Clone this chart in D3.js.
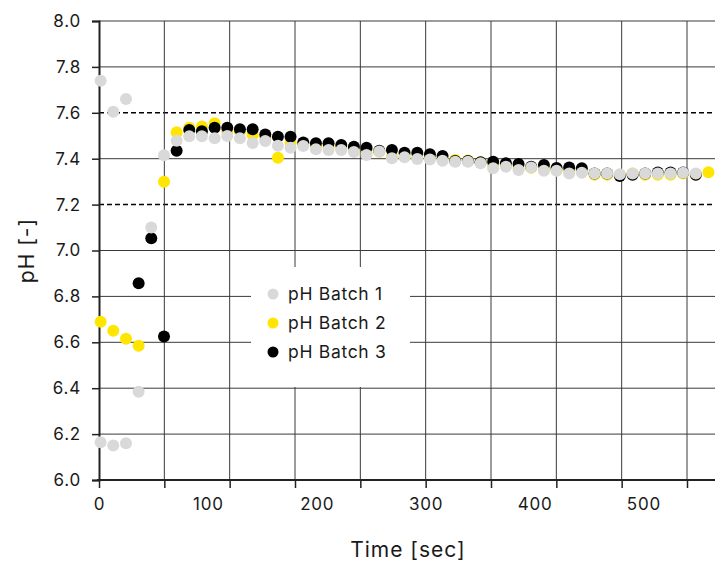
<!DOCTYPE html>
<html>
<head>
<meta charset="utf-8">
<script src="https://cdn.jsdelivr.net/npm/d3@7/dist/d3.min.js"></script>
<style>
  body { margin: 0; background: #fff; }
  svg { font-family: Inter, 'Noto Sans', sans-serif; }
</style>
</head>
<body>
<svg width="715" height="561"></svg>
<script>
// sample times [sec], one reading every ~11.6 s
var times = [1.5, 13.1, 24.8, 36.4, 48.0, 59.7, 71.3, 82.9, 94.5, 106.2,
  117.8, 129.4, 141.1, 152.7, 164.3, 175.9, 187.6, 199.2, 210.8, 222.5,
  234.1, 245.7, 257.4, 269.0, 280.6, 292.3, 303.9, 315.5, 327.1, 338.8,
  350.4, 362.0, 373.7, 385.3, 396.9, 408.6, 420.2, 431.8, 443.4, 455.1,
  466.7, 478.3, 490.0, 501.6, 513.2, 524.9, 536.5, 548.1, 559.7];

var batch1 = [6.165, 6.15, 6.16, 6.385, 7.10, 7.415, 7.478, 7.498, 7.498, 7.489,
  7.499, 7.489, 7.468, 7.477, 7.456, 7.448, 7.455, 7.441, 7.438, 7.438,
  7.429, 7.416, 7.431, 7.402, 7.406, 7.399, 7.397, 7.391, 7.387, 7.387,
  7.38, 7.358, 7.365, 7.351, 7.362, 7.348, 7.348, 7.336, 7.339, 7.336,
  7.336, 7.332, 7.336, 7.336, 7.336, 7.336, 7.339, 7.336, null];

// first three readings, same grey as batch 1 but not in the legend
var batch1High = [7.74, 7.605, 7.66];

var batch2 = [6.69, 6.65, 6.615, 6.585, null, 7.30, 7.515, 7.535, 7.54, 7.555,
  7.52, 7.52, 7.503, 7.49, 7.404, 7.47, 7.46, 7.455, 7.45, 7.445,
  7.44, 7.425, 7.43, 7.41, 7.41, 7.405, 7.41, 7.397, 7.394, 7.392,
  7.385, 7.37, 7.37, 7.36, 7.36, 7.355, 7.35, 7.35, 7.345, 7.33,
  7.33, 7.33, 7.335, 7.33, 7.33, 7.33, 7.335, 7.33, 7.341];

var batch3 = [null, null, null, 6.857, 7.053, 6.625, 7.435, 7.525, 7.52, 7.535,
  7.535, 7.528, 7.528, 7.505, 7.496, 7.496, 7.471, 7.467, 7.467, 7.46,
  7.452, 7.448, 7.435, 7.438, 7.426, 7.426, 7.419, 7.412, 7.39, 7.39,
  7.385, 7.387, 7.38, 7.377, 7.365, 7.373, 7.36, 7.362, 7.358, 7.335,
  7.335, 7.325, 7.33, 7.335, 7.34, 7.34, 7.34, 7.33, null];

var gridTimes = [0, 60, 120, 180, 240, 300, 360, 420, 480, 540];
var timeLabels = [0, 100, 200, 300, 400, 500];
var phTicks = [6.0, 6.2, 6.4, 6.6, 6.8, 7.0, 7.2, 7.4, 7.6, 7.8, 8.0];
var dashedTicks = [7.2, 7.6];

var legendNames = ['pH Batch 1', 'pH Batch 2', 'pH Batch 3'];
var colors = ['#d9d9d9', '#ffe500', '#000000'];

var svg = d3.select('svg');

// x: 60 s grid spacing is ~65.3 px
var x = d3.scaleLinear().domain([0, 540]).range([99, 687]);
var y = d3.scaleLinear().domain([6, 8]).range([480, 21]);

// horizontal grid
svg.append('g')
  .selectAll('line')
  .data(phTicks)
  .enter()
  .append('line')
  .attr('x1', 99)
  .attr('x2', 715)
  .attr('y1', function (d) { return y(d); })
  .attr('y2', function (d) { return y(d); })
  .attr('stroke', function (d) { return dashedTicks.indexOf(d) >= 0 ? '#000' : '#3a3a3a'; })
  .attr('stroke-width', function (d) { return dashedTicks.indexOf(d) >= 0 ? 1.5 : 1; })
  .attr('stroke-dasharray', function (d) { return dashedTicks.indexOf(d) >= 0 ? '5,3' : null; });

// vertical grid
svg.append('g')
  .selectAll('line')
  .data(gridTimes.slice(1))
  .enter()
  .append('line')
  .attr('x1', function (d) { return x(d); })
  .attr('x2', function (d) { return x(d); })
  .attr('y1', y(8))
  .attr('y2', y(6))
  .attr('stroke', '#3a3a3a')
  .attr('stroke-width', 1);

// bottom axis: tick marks on the 60 s grid, labels every 100 s
var xTicks = svg.append('g')
  .attr('transform', 'translate(0,' + y(6) + ')')
  .call(d3.axisBottom(x).tickValues(gridTimes).tickSize(8).tickSizeOuter(0).tickFormat(''));
xTicks.select('.domain').remove();
xTicks.selectAll('line').attr('stroke', '#222').attr('stroke-width', 1.5);

var xLabels = svg.append('g')
  .attr('transform', 'translate(0,' + y(6) + ')')
  .call(d3.axisBottom(x).tickValues(timeLabels).tickSize(0).tickPadding(18).tickFormat(d3.format('d')));
xLabels.select('.domain').remove();
xLabels.selectAll('text')
  .attr('font-size', 17)
  .attr('letter-spacing', 0.8)
  .attr('fill', '#1a1a1a')
  .style('font-family', 'Inter, sans-serif');

svg.append('line')
  .attr('x1', 97).attr('x2', 715)
  .attr('y1', y(6)).attr('y2', y(6))
  .attr('stroke', '#222').attr('stroke-width', 2);

// left axis
var yAxis = svg.append('g')
  .attr('transform', 'translate(99,0)')
  .call(d3.axisLeft(y).tickValues(phTicks).tickSize(7).tickPadding(11).tickFormat(d3.format('.1f')));
yAxis.select('.domain').attr('stroke', '#222').attr('stroke-width', 2);
yAxis.selectAll('line').attr('stroke', '#222').attr('stroke-width', 1.5);
yAxis.selectAll('text')
  .attr('font-size', 17)
  .attr('letter-spacing', 0.8)
  .attr('fill', '#1a1a1a')
  .style('font-family', 'Inter, sans-serif');

// points, drawn yellow, black, then grey on top
function drawSeries(values, color) {
  var pts = values
    .map(function (v, i) { return { t: times[i], v: v }; })
    .filter(function (d) { return d.v !== null; });
  svg.append('g')
    .selectAll('circle')
    .data(pts)
    .enter()
    .append('circle')
    .attr('cx', function (d) { return x(d.t); })
    .attr('cy', function (d) { return y(d.v); })
    .attr('r', 6)
    .attr('fill', color);
}
drawSeries(batch2, colors[1]);
drawSeries(batch3, colors[2]);
drawSeries(batch1, colors[0]);
drawSeries(batch1High, colors[0]);

// legend
var legend = svg.append('g').attr('transform', 'translate(251,267)');
legend.append('rect')
  .attr('width', 159)
  .attr('height', 120)
  .attr('fill', '#fff');
var items = legend.selectAll('g.item')
  .data(legendNames)
  .enter()
  .append('g')
  .attr('class', 'item')
  .attr('transform', function (d, i) { return 'translate(0,' + (27 + i * 29) + ')'; });
items.append('circle')
  .attr('cx', 22)
  .attr('cy', 0)
  .attr('r', 5.5)
  .attr('fill', function (d, i) { return colors[i]; });
items.append('text')
  .attr('x', 37)
  .attr('y', 0)
  .attr('dy', '0.35em')
  .attr('font-size', 17.5)
  .attr('letter-spacing', 0.7)
  .attr('fill', '#1a1a1a')
  .text(function (d) { return d; });

// axis titles
svg.append('text')
  .attr('x', 408)
  .attr('y', 557)
  .attr('text-anchor', 'middle')
  .attr('font-size', 21)
  .attr('letter-spacing', 1)
  .attr('fill', '#1a1a1a')
  .text('Time [sec]');

svg.append('text')
  .attr('transform', 'translate(34,' + ((y(6) + y(8)) / 2) + ') rotate(-90)')
  .attr('text-anchor', 'middle')
  .attr('font-size', 21)
  .attr('letter-spacing', 1)
  .attr('fill', '#1a1a1a')
  .text('pH [-]');
</script>
</body>
</html>
